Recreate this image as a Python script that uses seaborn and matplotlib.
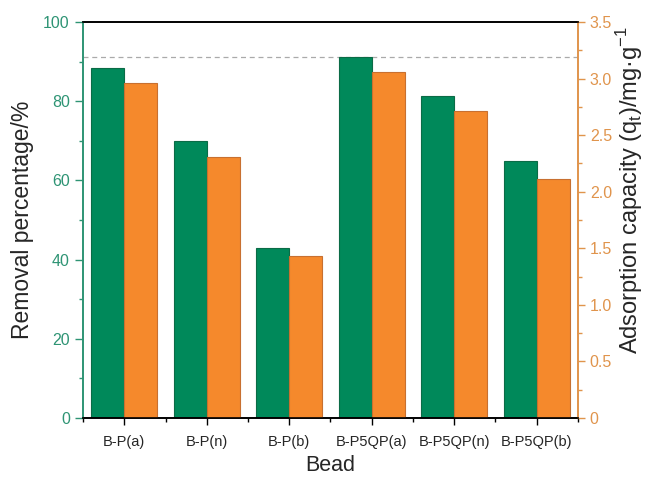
import matplotlib
matplotlib.use("Agg")
import matplotlib.pyplot as plt
import seaborn as sns
import pandas as pd
from matplotlib.ticker import MultipleLocator, FixedLocator

beads = ["B-P(a)", "B-P(n)", "B-P(b)", "B-P5QP(a)", "B-P5QP(n)", "B-P5QP(b)"]
removal = [88.4, 70.0, 42.9, 91.2, 81.3, 64.9]
capacity = [2.96, 2.31, 1.43, 3.06, 2.71, 2.11]
series = ["Removal", "Capacity"]
cap_ticks = [0, 0.5, 1.0, 1.5, 2.0, 2.5, 3.0, 3.5]
cap_labels = ["0", "0.5", "1.0", "1.5", "2.0", "2.5", "3.0", "3.5"]

GREEN = "#00895A"
ORANGE = "#F5892C"
GREEN_T = "#2E9474"
ORANGE_T = "#E0944C"

sns.set_style("white")
plt.rcParams["font.family"] = ["Liberation Sans", "DejaVu Sans"]

df_r = pd.DataFrame({"Bead": beads, "value": removal, "series": series[0]})
df_c = pd.DataFrame({"Bead": beads, "value": capacity, "series": series[1]})
pal = {series[0]: GREEN, series[1]: ORANGE}

fig = plt.figure(figsize=(6.46, 4.78), dpi=100)
ax = fig.add_axes([0.1285, 0.1255, 0.7662, 0.8285])
ax2 = ax.twinx()

sns.barplot(data=df_r, x="Bead", y="value", hue="series", hue_order=series,
            order=beads, palette=pal, width=0.8, dodge=True, ax=ax, legend=False,
            saturation=1, edgecolor="#0B6B46", linewidth=0.8)
sns.barplot(data=df_c, x="Bead", y="value", hue="series", hue_order=series,
            order=beads, palette=pal, width=0.8, dodge=True, ax=ax2, legend=False,
            saturation=1, edgecolor="#C87030", linewidth=0.8)

ax.set_xlim(-0.5, 5.5)
ax.set_ylim(0, 100)
ax2.set_ylim(0, 3.5)

ax.axhline(max(removal), color="#AAAAAA", linestyle=(0, (4, 3)), linewidth=0.9, zorder=0)

ax.yaxis.set_major_locator(MultipleLocator(20))
ax.yaxis.set_minor_locator(MultipleLocator(10))
ax2.set_yticks(cap_ticks)
ax2.set_yticklabels(cap_labels)
ax2.yaxis.set_minor_locator(MultipleLocator(0.25))
ax.xaxis.set_minor_locator(FixedLocator([i + 0.5 for i in range(-1, len(beads))]))

ax.tick_params(axis="y", which="major", direction="out", length=5.5, width=1,
               color=GREEN_T, labelcolor=GREEN_T, labelsize=11.5, pad=4)
ax.tick_params(axis="y", which="minor", direction="out", length=3, width=1, color=GREEN_T)
ax.tick_params(axis="x", which="major", direction="out", length=5, width=1,
               color="black", labelsize=10.5, pad=7, bottom=True)
ax.tick_params(axis="x", which="minor", direction="out", length=3, width=1,
               color="black", bottom=True)
ax2.tick_params(axis="y", which="major", direction="out", length=5, width=1,
                color=ORANGE_T, labelcolor=ORANGE_T, labelsize=11.5, pad=3.5, right=True)
ax2.tick_params(axis="y", which="minor", direction="out", length=3, width=1,
                color=ORANGE_T, right=True)

for a in (ax, ax2):
    for s in a.spines.values():
        s.set_visible(True)
        s.set_linewidth(1.2)
    a.spines["top"].set_color("black")
    a.spines["bottom"].set_color("black")
ax.spines["left"].set_color(GREEN_T)
ax2.spines["left"].set_color(GREEN_T)
ax.spines["right"].set_color(ORANGE_T)
ax2.spines["right"].set_color(ORANGE_T)

ax.set_xlabel("Bead", fontsize=15.5)
ax.set_ylabel("Removal percentage/%", fontsize=16.5)
ax2.set_ylabel("Adsorption capacity (q$_\\mathregular{t}$)/mg·g$^{\\mathregular{-1}}$",
               fontsize=17)
ax.xaxis.label.set_va("center")
ax.yaxis.label.set_va("center")
ax2.yaxis.label.set_va("center")
ax.xaxis.set_label_coords(0.5, -0.12)
ax.yaxis.set_label_coords(-0.123, 0.5)
ax2.yaxis.set_label_coords(1.104, 0.575)

fig.savefig("out.png", dpi=100)
